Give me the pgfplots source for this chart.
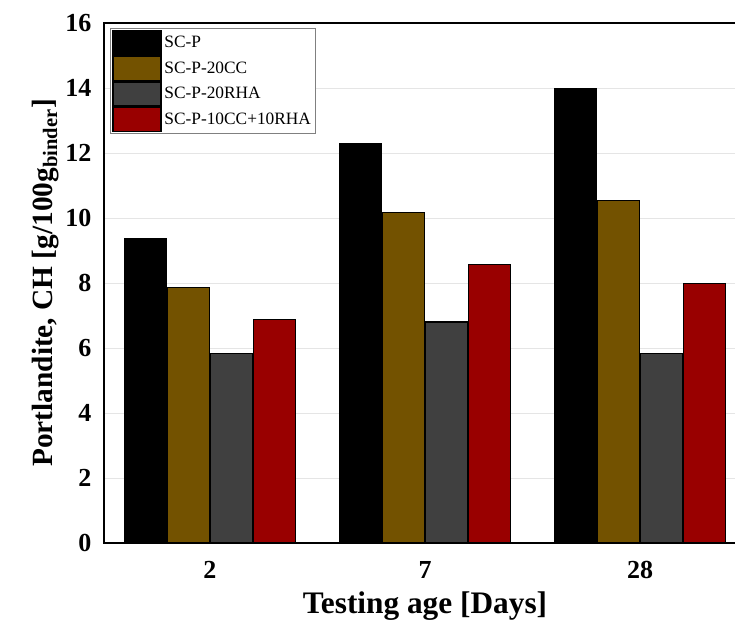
\documentclass[border=0pt]{standalone}
\usepackage{fontspec}
\setmainfont{Liberation Serif}
\usepackage{pgfplots}
\pgfplotsset{compat=1.18}
\definecolor{cbrown}{RGB}{115,82,0}
\definecolor{cgray}{RGB}{64,64,64}
\definecolor{cred}{RGB}{153,0,0}
\begin{document}
\begin{tikzpicture}
\begin{axis}[
  scale only axis,
  width=481.5pt, height=390pt,
  ybar=0.75pt, bar width=31.5pt,
  xmin=-0.493, xmax=2.493,
  ymin=0, ymax=16,
  xtick={0,1,2}, xticklabels={2,7,28},
  ytick={0,2,...,16},
  major tick length=0pt,
  ymajorgrids, grid style={draw=black!10, line width=0.6pt},
  axis line style={line width=1.5pt},
  tick label style={font=\fontsize{19.5}{22}\selectfont\bfseries},
  /pgf/number format/assume math mode=true,
  xticklabel style={yshift=-10pt},
  yticklabel style={xshift=-6pt},
  xlabel={Testing age [Days]},
  ylabel={Portlandite, CH [g/100g\textsubscript{binder}]},
  label style={font=\fontsize{22}{25}\selectfont\bfseries},
  xlabel style={yshift=-3pt, font=\fontsize{23.5}{26}\selectfont\bfseries},
  ylabel style={yshift=-2pt},
  legend style={at={(0.01,0.99)}, anchor=north west, draw=black!50, line width=0.6pt,
    font=\fontsize{13}{15}\selectfont, inner sep=1pt, row sep=0pt,
    /tikz/every even column/.append style={column sep=0pt}},
  legend cell align=left,
  legend image code/.code={\draw[#1,draw=black,line width=1.2pt] (0pt,-9pt) rectangle (36pt,9pt);},
  every axis plot/.append style={draw=black, line width=0.8pt},
]
\addplot[fill=black] coordinates {(0,9.38) (1,12.28) (2,13.97)};
\addplot[fill=cbrown] coordinates {(0,7.85) (1,10.18) (2,10.55)};
\addplot[fill=cgray] coordinates {(0,5.82) (1,6.8) (2,5.82)};
\addplot[fill=cred] coordinates {(0,6.89) (1,8.58) (2,7.97)};
\legend{SC-P,SC-P-20CC,SC-P-20RHA,SC-P-10CC+10RHA}
\end{axis}
\pgfresetboundingbox
\path[use as bounding box] ([xshift=-78pt,yshift=-65.25pt]current axis.south west) rectangle ([xshift=473.25pt,yshift=17.25pt]current axis.north west);
\end{tikzpicture}
\end{document}
